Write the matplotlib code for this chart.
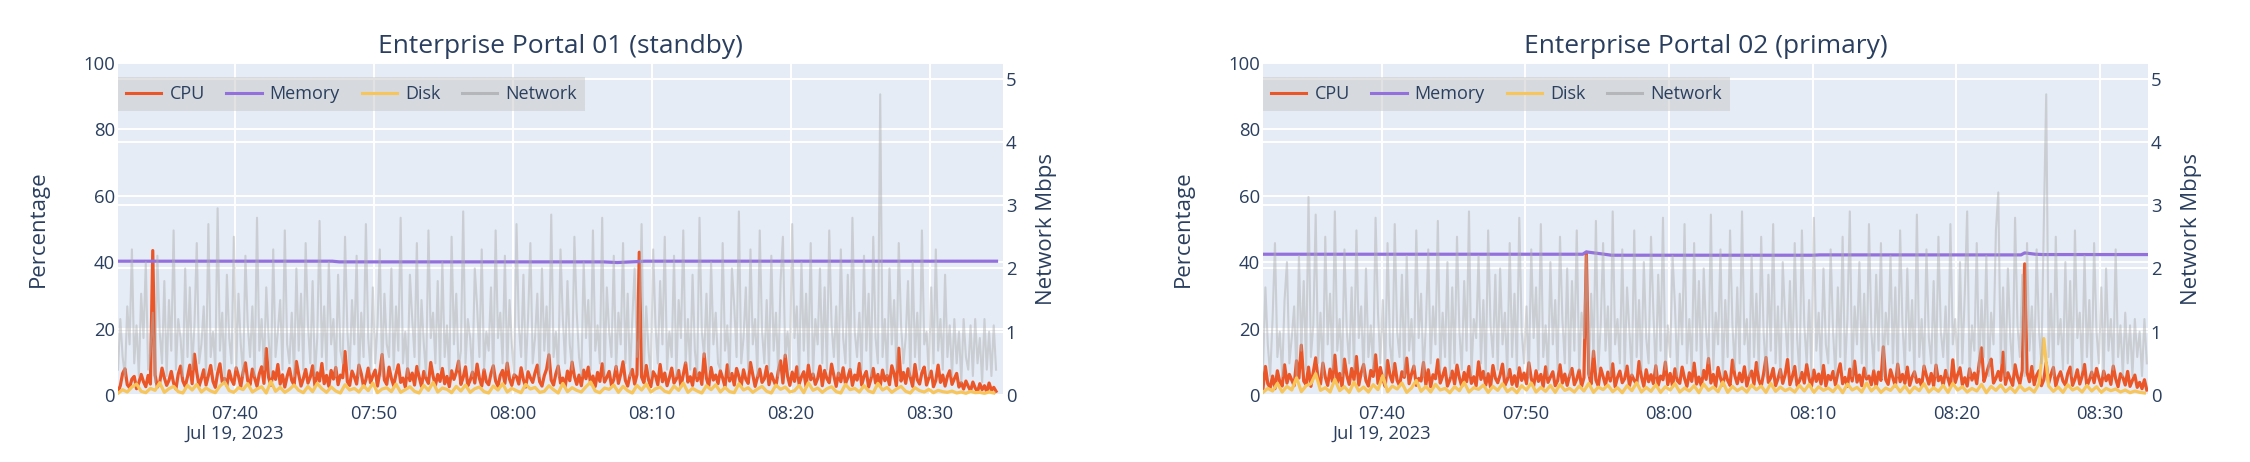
import matplotlib
matplotlib.use("Agg")
import matplotlib.pyplot as plt
import matplotlib.dates as mdates
import matplotlib.transforms as mtransforms
from matplotlib.lines import Line2D
import pandas as pd

plt.rcParams['font.family'] = ['Open Sans', 'DejaVu Sans']

TEXT = '#2a3f5f'
BG = '#E5ECF6'
C_CPU = '#EB5628'
C_MEM = '#9370DB'
C_DISK = '#F8C55A'
C_NET = '#B0B0B0'

titles = ['Enterprise Portal 01 (standby)', 'Enterprise Portal 02 (primary)']

# ---- Enterprise Portal 01 (standby): cpu/net every 10 s, disk every 20 s
cpu1 = [1.0, 2.8, 6.5, 7.9, 3.1, 2.2, 4.8, 5.6, 1.9, 3.7, 6.2, 4.0, 2.5, 5.9, 3.3, 43.5, 6.0, 2.4, 3.8, 8.1,
        5.2, 2.9, 4.4, 7.1, 3.6, 1.8, 6.3, 8.7, 4.2, 2.6, 5.5, 9.0, 3.4, 12.3, 6.8, 2.7, 4.9, 7.6, 3.0, 5.8,
        8.9, 4.1, 2.3, 6.6, 9.4, 3.9, 5.0, 2.8, 7.3, 4.6, 3.2, 8.2, 5.7, 2.5, 6.9, 9.7, 4.3, 3.1, 7.8, 5.1,
        2.6, 6.4, 8.5, 3.5, 14.0, 5.3, 2.9, 7.0, 4.7, 9.2, 3.3, 6.1, 2.4, 5.6, 8.0, 4.4, 3.0, 10.1, 6.2, 2.7,
        4.9, 7.7, 3.6, 5.4, 8.8, 2.8, 6.7, 4.2, 9.5, 3.4, 5.9, 2.6, 7.4, 4.8, 8.3, 3.1, 6.0, 5.2, 13.1, 4.0,
        2.9, 7.2, 5.5, 3.3, 9.0, 6.4, 2.5, 4.6, 8.1, 3.7, 5.8, 7.5, 2.7, 6.9, 12.2, 4.5, 3.2, 8.4, 5.0, 2.8,
        6.3, 9.1, 3.8, 5.1, 2.4, 7.9, 4.3, 6.6, 3.0, 8.6, 5.4, 2.6, 7.1, 4.9, 3.5, 9.8, 5.7, 2.9, 6.2, 4.1,
        8.0, 3.4, 5.6, 2.5, 7.3, 4.7, 6.8, 10.2, 3.2, 5.3, 8.5, 2.8, 4.4, 6.9, 3.6, 9.3, 5.0, 2.7, 7.6, 4.0,
        3.1, 6.5, 8.8, 4.2, 2.6, 5.9, 7.4, 3.5, 9.6, 4.8, 2.9, 6.1, 5.5, 3.3, 8.2, 4.6, 2.4, 7.0, 5.2, 3.8,
        6.7, 9.0, 4.0, 2.7, 5.8, 7.8, 12.1, 4.5, 3.0, 6.4, 8.7, 3.6, 5.1, 2.5, 7.2, 4.3, 9.9, 5.6, 3.2, 6.0,
        2.8, 7.5, 4.9, 8.4, 3.4, 5.7, 2.6, 6.8, 4.1, 9.4, 3.9, 5.3, 7.1, 2.9, 4.7, 8.6, 3.5, 6.3, 10.0, 4.4,
        2.7, 5.9, 7.7, 3.3, 6.1, 43.0, 5.4, 3.7, 8.9, 4.6, 2.5, 7.0, 5.8, 3.1, 9.2, 4.0, 6.6, 2.8, 5.2, 8.1,
        3.6, 4.8, 7.4, 2.6, 6.2, 9.7, 3.9, 5.5, 2.9, 7.9, 4.3, 6.7, 3.2, 12.4, 5.0, 2.7, 8.3, 4.5, 6.0, 3.4,
        7.3, 5.1, 2.5, 9.1, 4.2, 6.5, 3.0, 8.0, 5.6, 2.8, 7.6, 4.7, 3.5, 9.8, 6.1, 2.6, 5.3, 7.8, 3.8, 4.9,
        8.6, 3.1, 6.4, 4.4, 2.7, 7.2, 10.3, 3.6, 12.0, 5.7, 2.9, 6.9, 4.1, 8.5, 3.3, 5.5, 7.0, 2.5, 9.0, 4.6,
        6.3, 3.2, 5.0, 8.7, 2.8, 7.4, 4.9, 3.7, 9.3, 5.8, 2.6, 6.6, 4.0, 8.2, 3.4, 5.2, 7.7, 2.9, 6.0, 4.5,
        9.5, 3.0, 5.6, 7.1, 2.4, 4.8, 8.0, 3.6, 6.2, 2.7, 7.5, 4.3, 5.9, 3.1, 8.8, 6.4, 2.8, 14.1, 4.2, 6.8,
        3.5, 7.9, 5.3, 2.6, 9.2, 4.6, 3.3, 6.7, 8.4, 3.0, 5.1, 7.2, 2.5, 4.4, 9.0, 3.8, 6.0, 2.7, 5.6, 7.3,
        3.2, 4.9, 6.5, 2.4, 3.7, 1.8, 4.2, 2.6, 1.3, 3.9, 2.1, 1.0, 3.4, 1.6, 2.8, 0.9, 3.6, 1.4, 2.3, 1.1]

disk1 = [0.5, 1.6, 0.9, 2.4, 3.3, 1.1, 0.7, 2.0, 1.4, 3.7, 0.8, 1.9, 2.6, 1.0, 0.6, 2.9, 1.5, 3.2, 0.9, 2.1,
         1.2, 0.7, 2.7, 3.9, 1.3, 0.8, 2.2, 1.6, 3.4, 0.9, 1.8, 2.5, 0.6, 4.1, 1.1, 2.3, 0.8, 1.7, 3.0, 1.4,
         0.7, 2.6, 1.0, 3.5, 1.9, 0.8, 2.4, 1.2, 0.6, 3.1, 1.5, 2.0, 0.9, 2.8, 1.3, 3.6, 0.7, 1.8, 2.2, 1.0,
         3.3, 0.8, 1.6, 2.5, 1.1, 0.6, 2.9, 1.4, 3.8, 0.9, 2.1, 1.7, 0.7, 2.6, 1.2, 3.0, 0.8, 1.9, 2.4, 1.0,
         0.6, 2.7, 1.5, 3.4, 0.9, 2.0, 1.3, 0.7, 3.2, 1.8, 2.3, 0.8, 1.1, 2.8, 1.6, 0.6, 3.5, 1.0, 2.2, 1.4,
         0.9, 2.5, 3.9, 1.2, 0.7, 2.1, 1.7, 3.0, 0.8, 2.6, 1.3, 0.6, 2.9, 1.5, 3.3, 0.9, 1.9, 2.4, 1.1, 0.7,
         2.7, 1.4, 3.6, 0.8, 2.0, 1.2, 0.6, 2.8, 1.6, 3.1, 0.9, 2.3, 1.0, 0.7, 3.4, 1.5, 2.2, 0.8, 1.8, 2.6,
         1.1, 0.6, 3.0, 1.7, 2.4, 0.9, 1.3, 2.9, 0.7, 3.7, 1.4, 2.1, 0.8, 1.9, 2.5, 1.0, 0.6, 3.2, 1.6, 2.0,
         0.9, 2.8, 1.2, 0.7, 3.5, 1.5, 2.3, 0.8, 1.8, 2.6, 1.1, 0.6, 2.2, 1.3, 0.9, 1.7, 0.7, 1.4, 1.0, 0.8,
         1.2, 0.6, 0.9, 0.5, 1.1, 0.7, 0.8, 0.5, 0.9, 0.6]

net1 = [0.4, 1.2, 0.6, 0.3, 1.4, 0.8, 2.3, 0.5, 1.1, 0.3, 1.6, 0.9, 2.1, 0.4, 0.7, 1.3, 0.2, 2.2, 1.0, 0.5,
        1.8, 0.3, 1.5, 0.7, 2.6, 0.4, 1.2, 0.9, 0.3, 2.0, 0.6, 1.7, 0.4, 1.1, 2.4, 0.5, 0.8, 1.4, 0.3, 2.7,
        0.6, 1.0, 0.4, 2.95, 0.7, 1.3, 0.2, 1.9, 0.9, 0.5, 2.5, 0.4, 1.6, 0.8, 0.3, 2.2, 1.1, 0.6, 1.4, 0.3,
        2.8, 0.7, 1.2, 0.4, 1.7, 0.9, 0.3, 2.3, 0.6, 1.0, 1.5, 0.4, 2.6, 0.8, 0.5, 1.3, 0.3, 2.0, 0.7, 1.6,
        0.4, 2.4, 1.1, 0.5, 1.8, 0.3, 0.9, 2.75, 0.6, 1.4, 0.4, 2.1, 0.8, 1.2, 0.3, 1.9, 0.7, 0.5, 2.5, 1.0,
        0.4, 1.5, 0.8, 2.2, 0.3, 1.3, 0.6, 2.7, 0.9, 0.4, 1.7, 0.5, 1.1, 2.3, 0.3, 1.6, 0.8, 0.6, 2.0, 0.4,
        1.4, 0.7, 2.8, 0.5, 1.0, 0.3, 1.9, 1.2, 0.6, 2.4, 0.4, 1.5, 0.8, 0.3, 2.6, 0.9, 1.3, 0.5, 1.8, 0.4,
        2.1, 0.6, 1.1, 0.3, 2.5, 0.8, 1.6, 0.4, 0.7, 2.9, 0.5, 1.2, 0.9, 0.3, 2.0, 1.4, 0.6, 2.3, 0.4, 1.0,
        0.7, 1.7, 0.3, 2.6, 0.9, 1.3, 0.5, 2.2, 0.4, 1.5, 0.8, 0.3, 2.7, 1.1, 0.6, 1.9, 0.4, 1.2, 2.4, 0.5,
        0.9, 1.6, 0.3, 2.0, 0.7, 1.4, 0.4, 2.85, 0.6, 1.0, 0.3, 2.3, 1.2, 0.5, 1.8, 0.8, 0.4, 2.5, 1.3, 0.6,
        0.3, 2.1, 0.9, 1.5, 0.4, 2.6, 0.7, 1.1, 0.5, 2.8, 0.3, 1.7, 1.0, 0.6, 2.2, 0.4, 1.3, 0.8, 2.4, 0.5,
        1.6, 0.3, 1.2, 2.0, 0.6, 0.9, 2.7, 0.4, 1.4, 0.7, 0.3, 2.3, 1.1, 0.5, 1.8, 0.8, 2.5, 0.4, 1.0, 0.6,
        2.2, 0.3, 1.5, 0.9, 2.6, 0.5, 1.2, 0.4, 1.9, 0.7, 0.3, 2.8, 1.0, 0.6, 1.6, 0.4, 2.1, 0.8, 1.3, 0.5,
        0.4, 2.4, 0.7, 1.1, 0.3, 2.0, 1.4, 0.6, 2.9, 0.5, 0.9, 1.7, 0.4, 2.3, 0.8, 1.2, 0.3, 2.6, 1.0, 0.5,
        1.5, 0.4, 2.2, 0.7, 1.3, 0.3, 1.8, 2.5, 0.6, 1.0, 0.4, 2.7, 0.9, 1.4, 0.3, 2.1, 0.7, 1.6, 0.5, 2.4,
        0.3, 1.2, 0.8, 2.0, 0.5, 1.7, 0.4, 2.6, 1.1, 0.6, 1.4, 0.3, 2.3, 0.9, 0.5, 1.9, 0.4, 2.8, 1.0, 0.6,
        1.3, 0.4, 2.2, 0.7, 1.6, 0.3, 2.5, 0.9, 0.5, 4.75, 0.6, 1.2, 0.3, 2.0, 0.8, 1.5, 0.4, 2.4, 1.1, 0.5,
        0.9, 1.8, 0.3, 2.1, 0.6, 1.3, 0.4, 2.6, 0.8, 1.0, 0.3, 1.7, 0.5, 2.3, 0.7, 1.2, 0.4, 1.9, 0.6, 1.1,
        0.3, 1.2, 0.5, 1.0, 0.2, 1.2, 0.6, 0.4, 1.1, 0.3, 1.2, 0.5, 0.9, 0.2, 1.2, 0.4, 1.0, 0.3, 1.1, 0.4]

mem1_time = ['07:31:35', '07:47:00', '07:47:30', '08:06:30', '08:07:30', '08:08:30', '08:09:30', '08:34:47']
mem1_val = [40.3, 40.3, 40.1, 40.1, 39.9, 40.1, 40.3, 40.3]

# ---- Enterprise Portal 02 (primary)
cpu2 = [2.0, 8.6, 3.4, 2.2, 5.7, 1.9, 7.3, 4.0, 2.7, 9.1, 3.6, 6.2, 4.5, 2.8, 10.3, 5.1, 15.0, 4.2, 3.1, 8.4,
        2.6, 6.9, 11.2, 4.7, 3.3, 9.6, 5.4, 2.9, 7.8, 4.1, 12.0, 3.7, 6.5, 2.5, 10.8, 5.9, 3.2, 8.0, 4.6, 11.6,
        3.0, 6.7, 9.2, 4.3, 2.7, 7.4, 5.6, 12.1, 3.5, 8.3, 4.8, 2.6, 10.4, 6.0, 3.9, 9.5, 4.4, 2.8, 7.0, 5.3,
        11.1, 3.4, 6.3, 8.7, 2.9, 5.0, 4.2, 9.8, 3.1, 7.6, 2.5, 6.1, 4.9, 10.6, 3.6, 5.7, 8.1, 2.7, 4.5, 7.2,
        3.3, 9.0, 5.2, 2.6, 6.8, 4.0, 8.6, 3.5, 5.5, 2.8, 10.0, 4.7, 7.1, 3.0, 6.4, 2.4, 8.9, 5.1, 3.7, 6.0,
        9.3, 2.9, 4.6, 7.7, 3.2, 5.8, 2.6, 8.2, 4.4, 6.6, 3.4, 9.7, 5.0, 2.7, 7.3, 4.1, 6.2, 2.5, 8.5, 3.8,
        5.4, 7.0, 2.8, 4.3, 9.1, 3.6, 6.3, 2.9, 5.9, 8.0, 3.1, 4.8, 7.5, 2.6, 5.2, 43.0, 6.4, 3.3, 13.2, 4.5,
        2.7, 8.1, 5.6, 3.0, 6.9, 4.2, 9.4, 2.5, 5.3, 7.2, 3.7, 4.9, 8.7, 2.8, 6.0, 4.4, 3.2, 10.1, 5.5, 2.6,
        7.6, 4.0, 6.1, 3.4, 8.8, 2.9, 5.7, 4.6, 9.9, 3.1, 6.5, 2.7, 7.9, 4.3, 3.5, 8.4, 5.0, 2.6, 6.7, 4.1,
        9.6, 3.3, 5.4, 2.8, 7.4, 4.7, 11.0, 3.6, 6.2, 2.5, 8.3, 5.1, 3.0, 7.0, 4.4, 2.9, 10.5, 5.8, 3.4, 6.6,
        4.0, 8.5, 2.7, 5.6, 7.2, 3.2, 9.8, 4.5, 2.6, 6.4, 11.3, 3.8, 5.2, 8.0, 2.8, 4.9, 7.7, 3.5, 6.1, 10.7,
        3.1, 5.5, 8.6, 2.9, 4.3, 6.8, 3.6, 9.2, 5.0, 2.5, 7.5, 4.1, 6.3, 3.3, 8.9, 2.7, 5.9, 4.6, 7.1, 3.0,
        6.6, 9.4, 3.4, 5.3, 2.6, 7.8, 4.2, 10.2, 3.9, 6.0, 2.8, 8.1, 4.8, 5.7, 3.1, 7.3, 2.5, 6.9, 4.4, 14.5,
        4.6, 3.2, 7.6, 5.1, 2.7, 9.3, 4.0, 6.2, 3.5, 8.4, 2.9, 5.4, 7.0, 3.8, 4.7, 2.6, 8.7, 5.8, 3.3, 6.5,
        2.8, 9.0, 4.3, 5.6, 3.0, 7.4, 4.9, 2.5, 10.6, 3.7, 6.1, 8.2, 3.1, 5.2, 2.7, 7.9, 4.5, 6.6, 3.4, 9.5,
        14.2, 4.1, 6.3, 8.8, 10.8, 3.6, 5.0, 7.1, 4.4, 12.9, 3.2, 6.7, 4.8, 2.9, 9.1, 5.5, 3.4, 7.4, 39.5, 6.8,
        4.0, 8.6, 3.1, 5.9, 7.3, 2.8, 4.6, 9.7, 3.5, 6.2, 8.3, 2.7, 5.4, 7.0, 4.2, 3.0, 6.5, 8.4, 2.9, 4.8,
        7.6, 3.3, 5.7, 9.2, 2.6, 4.5, 6.9, 3.7, 8.0, 5.1, 2.8, 7.2, 4.3, 6.0, 3.2, 8.7, 4.9, 2.5, 6.4, 5.3,
        3.0, 7.1, 2.6, 4.4, 6.0, 2.3, 3.8, 1.9, 4.6, 1.5]

disk2 = [0.8, 2.0, 1.2, 3.5, 0.9, 2.6, 1.5, 5.2, 1.0, 2.8, 3.4, 6.4, 1.4, 2.2, 0.9, 4.7, 1.3, 2.5, 0.8, 3.9,
         1.2, 2.4, 0.9, 3.1, 1.6, 5.8, 1.0, 2.7, 1.8, 3.6, 0.8, 2.1, 4.4, 1.1, 2.6, 0.9, 3.2, 1.5, 2.0, 0.7,
         2.5, 1.3, 3.8, 0.9, 2.2, 1.7, 3.0, 0.8, 2.6, 1.4, 3.4, 1.0, 2.1, 0.7, 2.8, 1.5, 3.6, 0.9, 2.3, 1.1,
         2.9, 0.8, 3.2, 1.4, 2.0, 0.9, 2.7, 1.2, 3.5, 0.8, 2.4, 1.6, 3.0, 1.0, 2.2, 0.7, 2.8, 1.3, 3.7, 0.9,
         2.3, 1.1, 3.1, 0.8, 2.5, 1.5, 3.4, 0.9, 2.1, 1.2, 2.8, 0.7, 3.3, 1.4, 2.4, 1.0, 3.9, 0.8, 2.6, 1.3,
         2.2, 0.9, 3.0, 1.6, 2.7, 0.8, 3.5, 1.1, 2.4, 1.3, 2.0, 0.9, 2.9, 1.2, 3.2, 0.8, 2.5, 1.4, 2.1, 1.0,
         2.8, 0.7, 3.3, 1.5, 2.3, 0.9, 3.6, 1.2, 2.6, 0.8, 2.1, 1.4, 3.1, 1.0, 2.7, 0.7, 2.4, 1.3, 3.4, 0.9,
         2.2, 1.1, 2.9, 0.8, 3.5, 1.5, 2.5, 0.9, 2.0, 1.2, 3.2, 0.7, 2.6, 1.4, 3.0, 1.0, 2.3, 0.8, 2.8, 1.3,
         2.1, 0.9, 3.4, 17.0, 2.7, 1.1, 2.4, 0.8, 3.1, 1.5, 2.2, 0.9, 2.9, 1.2, 2.5, 0.8, 2.0, 1.3, 1.8, 0.9,
         1.5, 0.7, 1.2, 0.8, 0.6]

net2 = [0.4, 1.7, 0.8, 0.3, 1.2, 2.4, 0.6, 1.0, 0.3, 1.5, 2.1, 0.5, 0.9, 1.4, 0.3, 2.2, 0.7, 1.8, 0.4, 3.13,
        0.6, 1.1, 2.85, 0.5, 1.3, 0.3, 2.5, 0.8, 1.6, 0.4, 2.9, 0.7, 1.2, 0.3, 2.3, 1.0, 0.5, 1.7, 0.4, 2.6,
        0.9, 1.4, 0.3, 2.0, 0.6, 1.1, 0.4, 2.8, 1.3, 0.5, 1.5, 0.3, 2.4, 0.8, 0.4, 2.7, 1.0, 0.6, 1.9, 0.3,
        2.2, 0.7, 1.2, 0.4, 2.6, 0.9, 1.6, 0.3, 1.1, 2.3, 0.5, 1.4, 0.8, 2.75, 0.4, 1.3, 0.6, 2.1, 0.3, 1.7,
        0.5, 2.5, 1.0, 0.4, 1.8, 0.7, 2.9, 0.3, 1.2, 0.9, 2.2, 0.5, 1.5, 0.3, 2.6, 1.1, 0.6, 1.9, 0.4, 2.0,
        0.8, 1.3, 0.3, 2.4, 0.6, 1.6, 0.4, 2.8, 1.0, 0.5, 1.4, 0.3, 2.3, 0.9, 1.7, 0.4, 2.7, 0.6, 1.1, 0.3,
        2.1, 0.8, 1.5, 0.4, 2.5, 1.2, 0.5, 2.0, 0.3, 1.8, 0.7, 2.6, 0.4, 1.3, 0.9, 2.2, 0.3, 1.6, 0.6, 2.75,
        0.4, 1.1, 2.4, 0.7, 1.4, 0.3, 2.9, 0.8, 1.2, 0.5, 2.3, 0.4, 1.7, 1.0, 0.3, 2.6, 0.6, 1.5, 0.4, 2.1,
        0.9, 0.5, 2.5, 1.3, 0.3, 1.9, 0.7, 2.8, 0.4, 1.1, 0.6, 2.2, 1.4, 0.3, 1.6, 0.8, 2.7, 0.5, 1.2, 0.4,
        2.4, 0.7, 1.8, 0.3, 2.0, 1.0, 0.5, 2.85, 0.4, 1.3, 0.8, 2.3, 0.3, 1.5, 0.6, 2.6, 1.1, 0.4, 1.7, 0.5,
        2.9, 0.8, 1.2, 0.3, 2.2, 0.6, 1.6, 0.4, 2.5, 1.0, 0.3, 1.9, 0.7, 2.7, 0.5, 1.4, 0.3, 2.1, 1.2, 0.6,
        1.8, 0.4, 2.4, 0.9, 0.3, 2.6, 1.1, 0.5, 1.5, 0.3, 2.8, 0.7, 1.3, 0.4, 2.0, 0.8, 0.5, 2.3, 1.0, 0.3,
        1.7, 0.6, 2.5, 0.4, 1.2, 2.9, 0.3, 1.4, 0.8, 2.1, 0.5, 1.6, 0.3, 2.7, 1.0, 0.4, 1.9, 0.7, 2.4, 0.3,
        1.3, 0.8, 2.2, 0.5, 1.7, 0.3, 2.6, 1.1, 0.4, 2.0, 0.7, 1.5, 0.3, 2.85, 0.6, 1.2, 0.4, 2.3, 0.9, 0.5,
        1.8, 0.3, 2.5, 1.0, 0.6, 1.4, 0.3, 2.7, 0.8, 1.2, 0.4, 2.1, 0.5, 1.6, 2.9, 0.3, 1.1, 0.7, 2.4, 0.4,
        1.5, 0.6, 2.2, 0.3, 1.3, 0.8, 2.6, 3.2, 0.5, 1.7, 0.3, 2.0, 0.9, 0.4, 2.8, 1.1, 0.6, 1.9, 0.3, 2.4,
        0.7, 1.4, 0.4, 2.3, 1.0, 0.5, 2.7, 4.75, 0.6, 1.6, 0.3, 2.5, 0.8, 1.2, 0.4, 2.1, 0.5, 1.8, 0.3, 2.6,
        0.9, 1.3, 0.4, 2.2, 0.6, 1.5, 0.3, 2.4, 1.0, 0.5, 1.7, 0.3, 2.0, 0.7, 1.2, 0.4, 2.3, 0.6, 1.1, 0.3,
        1.3, 0.5, 1.1, 0.3, 1.2, 0.6, 1.0, 0.3, 1.2, 0.5]

mem2_time = ['07:31:45', '07:54:00', '07:54:15', '07:55:30', '07:56:00', '08:10:00', '08:10:30',
             '08:24:30', '08:24:45', '08:25:30', '08:26:00', '08:33:15']
mem2_val = [42.4, 42.4, 43.1, 42.4, 42.1, 42.1, 42.2, 42.2, 42.8, 42.4, 42.3, 42.3]

starts = ['2023-07-19 07:31:35', '2023-07-19 07:31:45']
x_ranges = [('2023-07-19 07:31:35', '2023-07-19 08:35:15'), ('2023-07-19 07:31:45', '2023-07-19 08:33:20')]
pct_ticks = [0, 20, 40, 60, 80, 100]
net_ticks = [0, 1, 2, 3, 4, 5]

servers = [(cpu1, disk1, net1, mem1_time, mem1_val), (cpu2, disk2, net2, mem2_time, mem2_val)]

fig = plt.figure(figsize=(22.5, 4.62), dpi=100)
lefts = [118 / 2250, 1263 / 2250]


def fmt(x, pos):
    s = mdates.num2date(x).strftime('%H:%M')
    if pos == 0:
        s += '\nJul 19, 2023'
    return s


for k, (cpu, disk, net, mem_t, mem_v) in enumerate(servers):
    t10 = pd.date_range(starts[k], periods=len(cpu), freq='10s')
    t20 = pd.date_range(starts[k], periods=len(disk), freq='20s')
    tm = pd.to_datetime(['2023-07-19 ' + s for s in mem_t])

    ax = fig.add_axes([lefts[k], 67 / 462, 885 / 2250, 332 / 462])
    ax.set_facecolor(BG)
    ax2 = ax.twinx()

    ax.plot(t10, cpu, color=C_CPU, lw=2.3, zorder=2)
    ax.plot(tm, mem_v, color=C_MEM, lw=2.3, zorder=3)
    ax.plot(t20, disk, color=C_DISK, lw=2.3, zorder=4)
    ax2.plot(t10, net, color=C_NET, lw=1.5, alpha=0.5)

    ax.set_ylim(0, 100)
    ax2.set_ylim(0, 5.245)
    ax.set_xlim(pd.Timestamp(x_ranges[k][0]), pd.Timestamp(x_ranges[k][1]))
    ax.set_yticks(pct_ticks)
    ax2.set_yticks(net_ticks)

    # both y grids sit under all traces
    ax.set_axisbelow(True)
    ax.grid(True, color='white', lw=1.4)
    blend = mtransforms.blended_transform_factory(ax.transAxes, ax2.transData)
    ax.hlines(net_ticks, 0, 1, transform=blend, color='white', lw=1.4, zorder=0.6)

    ax.xaxis.set_major_locator(mdates.MinuteLocator(byminute=range(0, 60, 10)))
    ax.xaxis.set_major_formatter(plt.FuncFormatter(fmt))

    for a in (ax, ax2):
        for sp in a.spines.values():
            sp.set_visible(False)
        a.tick_params(length=0, labelsize=13.3, colors=TEXT, pad=2)
    ax.tick_params(axis='x', pad=7)
    for lab in ax.get_xticklabels():
        lab.set_linespacing(1.15)

    ax.set_ylabel('Percentage', fontsize=16, color=TEXT)
    ax.yaxis.set_label_coords(-0.078, 0.5)
    ax2.set_ylabel('Network Mbps', fontsize=16, color=TEXT)
    ax2.yaxis.set_label_coords(1.037, 0.5)

    ax.text(0.5, 1.049, titles[k], transform=ax.transAxes, ha='center', va='center',
            fontsize=19, color=TEXT)

    handles = [Line2D([], [], color=C_CPU, lw=2.2), Line2D([], [], color=C_MEM, lw=2.2),
               Line2D([], [], color=C_DISK, lw=2.2), Line2D([], [], color='#B4B6B9', lw=2.2)]
    leg = ax2.legend(handles, ['CPU', 'Memory', 'Disk', 'Network'], loc='upper left',
                     bbox_to_anchor=(0, 0.958), borderaxespad=0, ncol=4, frameon=True,
                     fancybox=False, fontsize=13, handlelength=1.95, handletextpad=0.45,
                     columnspacing=1.2, borderpad=0.45, labelcolor=TEXT)
    leg.get_frame().set_facecolor('#C8C8C8')
    leg.get_frame().set_alpha(0.5)
    leg.get_frame().set_edgecolor('none')
    leg.set_zorder(10)

fig.savefig('out.png', dpi=100, facecolor='white')
